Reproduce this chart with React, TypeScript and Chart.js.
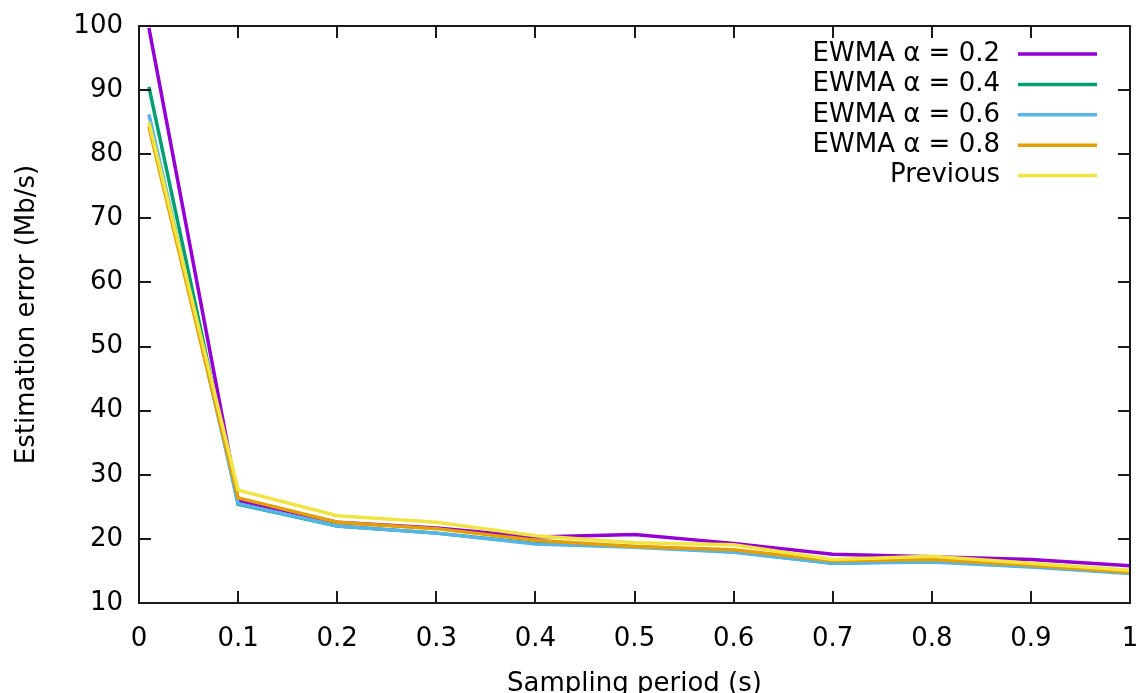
import { useEffect, useRef } from "react";
import { Chart, registerables } from "chart.js";

Chart.register(...registerables);

// ---- Data ----
const PERIODS = [0.01, 0.1, 0.2, 0.3, 0.4, 0.5, 0.6, 0.7, 0.8, 0.9, 1.0];
const EWMA_02 = [99.7, 26.0, 22.6, 21.7, 20.3, 20.7, 19.3, 17.6, 17.2, 16.8, 15.8];
const EWMA_04 = [90.5, 25.4, 22.0, 20.9, 19.3, 18.8, 18.0, 16.2, 16.5, 15.7, 14.8];
const EWMA_06 = [86.2, 25.5, 22.0, 20.9, 19.2, 18.7, 17.9, 16.2, 16.4, 15.6, 14.6];
const EWMA_08 = [84.3, 26.4, 22.6, 21.6, 19.8, 18.8, 18.3, 16.6, 16.8, 15.9, 14.8];
const PREVIOUS = [85.0, 27.6, 23.6, 22.6, 20.5, 19.4, 19.1, 16.8, 17.3, 16.2, 15.1];

const SERIES_LABELS = ["EWMA α = 0.2", "EWMA α = 0.4", "EWMA α = 0.6", "EWMA α = 0.8", "Previous"];
const SERIES_COLORS = ["#9400d3", "#009e73", "#56b4e9", "#e69f00", "#f0e442"];
const SERIES_VALUES = [EWMA_02, EWMA_04, EWMA_06, EWMA_08, PREVIOUS];

const X_TICKS = [0, 0.1, 0.2, 0.3, 0.4, 0.5, 0.6, 0.7, 0.8, 0.9, 1];
const X_TICK_LABELS = ["0", "0.1", "0.2", "0.3", "0.4", "0.5", "0.6", "0.7", "0.8", "0.9", "1"];
const Y_TICKS = [10, 20, 30, 40, 50, 60, 70, 80, 90, 100];
const Y_TICK_LABELS = ["10", "20", "30", "40", "50", "60", "70", "80", "90", "100"];

const X_TITLE = "Sampling period (s)";
const Y_TITLE = "Estimation error (Mb/s)";

const FONT_FAMILY = "'DejaVu Sans', sans-serif";
const FONT_SIZE = 26;

const frameAndLegend = {
  id: "frameAndLegend",
  afterDraw(chart: any) {
    const ctx = chart.ctx;
    const { left, right, top, bottom } = chart.chartArea;
    const xs = chart.scales.x;
    const ys = chart.scales.y;
    const tick = 12;
    ctx.save();
    ctx.strokeStyle = "#1a1a1a";
    ctx.lineWidth = 2;
    ctx.beginPath();
    X_TICKS.forEach((v) => {
      const px = Math.round(xs.getPixelForValue(v));
      ctx.moveTo(px, bottom);
      ctx.lineTo(px, bottom - tick);
      ctx.moveTo(px, top);
      ctx.lineTo(px, top + tick);
    });
    Y_TICKS.forEach((v) => {
      const py = Math.round(ys.getPixelForValue(v));
      ctx.moveTo(left, py);
      ctx.lineTo(left + tick, py);
      ctx.moveTo(right, py);
      ctx.lineTo(right - tick, py);
    });
    ctx.stroke();
    ctx.strokeRect(left, top, right - left, bottom - top);

    // legend (gnuplot style: text right-aligned, sample to the right)
    ctx.font = `${FONT_SIZE}px ${FONT_FAMILY}`;
    ctx.textAlign = "right";
    ctx.textBaseline = "middle";
    SERIES_LABELS.forEach((label, i) => {
      const y = 54 + i * 30.4;
      ctx.fillStyle = "#000";
      ctx.fillText(label, 1000, y);
      ctx.strokeStyle = SERIES_COLORS[i];
      ctx.lineWidth = 3.5;
      ctx.beginPath();
      ctx.moveTo(1018, y);
      ctx.lineTo(1097, y);
      ctx.stroke();
    });
    ctx.restore();
  },
};

export default function App() {
  const ref = useRef<HTMLCanvasElement | null>(null);

  useEffect(() => {
    if (!ref.current) return;
    const datasets = SERIES_VALUES.map((vals, i) => ({
      label: SERIES_LABELS[i],
      data: PERIODS.map((x, j) => ({ x, y: vals[j] })),
      borderColor: SERIES_COLORS[i],
      backgroundColor: SERIES_COLORS[i],
      borderWidth: 3.5,
      pointRadius: 0,
      tension: 0,
      fill: false,
      order: SERIES_VALUES.length - i,
    }));
    const chart = new Chart(ref.current, {
      type: "line",
      data: { datasets },
      options: {
        animation: false,
        responsive: false,
        devicePixelRatio: 1,
        layout: { padding: { top: 26, right: 14, left: 0, bottom: 0 } },
        plugins: { legend: { display: false }, tooltip: { enabled: false } },
        scales: {
          x: {
            type: "linear",
            min: 0,
            max: 1,
            grid: { display: false, drawTicks: false },
            border: { display: false },
            afterBuildTicks: (scale: any) => {
              scale.ticks = X_TICKS.map((v) => ({ value: v }));
            },
            afterFit: (scale: any) => {
              scale.height = 90;
              scale.paddingLeft = 0;
              scale.paddingRight = 0;
            },
            ticks: {
              autoSkip: false,
              maxRotation: 0,
              padding: 21,
              color: "#000",
              font: { family: FONT_FAMILY, size: FONT_SIZE },
              callback: (v: any) => {
                const i = X_TICKS.findIndex((t) => Math.abs(t - Number(v)) < 1e-9);
                return i >= 0 ? X_TICK_LABELS[i] : "";
              },
            },
            title: {
              display: true,
              text: X_TITLE,
              color: "#000",
              font: { family: FONT_FAMILY, size: FONT_SIZE, lineHeight: 0.7 },
              padding: { top: 0, bottom: 0 },
            },
          },
          y: {
            type: "linear",
            min: 10,
            max: 100,
            grid: { display: false, drawTicks: false },
            border: { display: false },
            afterBuildTicks: (scale: any) => {
              scale.ticks = Y_TICKS.map((v) => ({ value: v }));
            },
            afterFit: (scale: any) => {
              scale.width = 139;
              scale.paddingTop = 0;
              scale.paddingBottom = 0;
            },
            ticks: {
              autoSkip: false,
              padding: 16,
              color: "#000",
              font: { family: FONT_FAMILY, size: FONT_SIZE },
              callback: (v: any) => {
                const i = Y_TICKS.findIndex((t) => Math.abs(t - Number(v)) < 1e-9);
                return i >= 0 ? Y_TICK_LABELS[i] : "";
              },
            },
            title: {
              display: true,
              text: Y_TITLE,
              color: "#000",
              font: { family: FONT_FAMILY, size: FONT_SIZE, lineHeight: 1 },
              padding: { top: 14, bottom: 0 },
            },
          },
        },
      },
      plugins: [frameAndLegend],
    } as any);
    return () => chart.destroy();
  }, []);

  return (
    <div style={{ position: "absolute", left: 0, top: 0, width: 1144, height: 693, background: "#fff" }}>
      <canvas ref={ref} width={1144} height={693} style={{ display: "block" }} />
    </div>
  );
}
